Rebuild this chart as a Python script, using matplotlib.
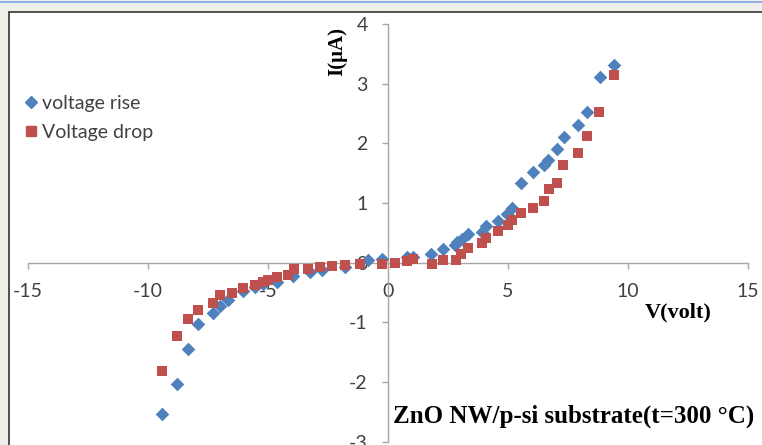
import numpy as np
import matplotlib.pyplot as plt
from matplotlib.patches import Rectangle
from matplotlib.lines import Line2D

plt.rcParams['axes.unicode_minus'] = False

# voltage rise (blue diamonds)
rise_v = [-9.43, -8.8, -8.32, -7.9, -7.3, -7.0, -6.65, -6.03, -5.54, -5.2, -4.64, -3.94,
          -3.25, -2.76, -1.79, -0.82, -0.26, 0.78, 1.06, 1.79, 2.31, 2.79, 2.89, 3.07,
          3.32, 3.9, 4.08, 4.6, 4.97, 5.15, 5.53, 6.03, 6.5, 6.68, 7.03, 7.35, 7.9,
          8.3, 8.83, 9.42]
rise_i = [-2.54, -2.04, -1.44, -1.03, -0.85, -0.73, -0.62, -0.48, -0.41, -0.36, -0.32, -0.22,
          -0.16, -0.12, -0.07, 0.04, 0.07, 0.09, 0.09, 0.15, 0.23, 0.30, 0.35, 0.40,
          0.48, 0.52, 0.61, 0.70, 0.82, 0.92, 1.33, 1.52, 1.63, 1.72, 1.91, 2.11, 2.30,
          2.52, 3.12, 3.32]

# voltage drop (red squares)
drop_v = [-9.4, -8.8, -8.32, -7.9, -7.3, -7.0, -6.5, -6.03, -5.54, -5.2, -4.99, -4.64,
          -4.15, -3.92, -3.32, -2.83, -2.35, -1.79, -1.17, -0.26, 0.29, 0.78, 1.06, 1.82,
          2.31, 2.83, 3.04, 3.32, 3.9, 4.08, 4.6, 5.01, 5.15, 5.53, 6.03, 6.5, 6.72,
          7.03, 7.3, 7.93, 8.28, 8.79, 9.42]
drop_i = [-1.82, -1.23, -0.95, -0.80, -0.68, -0.54, -0.51, -0.42, -0.37, -0.32, -0.29, -0.24,
          -0.20, -0.11, -0.11, -0.07, -0.06, -0.04, -0.03, -0.03, -0.01, 0.03, 0.07, -0.03,
          0.04, 0.04, 0.14, 0.24, 0.33, 0.42, 0.53, 0.63, 0.72, 0.83, 0.92, 1.04, 1.24,
          1.34, 1.64, 1.84, 2.13, 2.53, 3.14]

xticks = [-15, -10, -5, 0, 5, 10, 15]
yticks = [-3, -2, -1, 0, 1, 2, 3, 4]

blue = '#4f81bd'
red = '#c0504d'
axcol = '#a6a6a6'

fig = plt.figure(figsize=(7.62, 4.45), dpi=100)
fig.patch.set_facecolor('#f0f0eb')
# white chart area with dark frame on top/left
fig.patches.append(Rectangle((9 / 762, -0.1), 1.0, (445 - 12.5) / 445 + 0.1,
                             transform=fig.transFigure, facecolor='white',
                             edgecolor='#333333', linewidth=1.2, zorder=-5))
fig.lines.append(Line2D([0, 1], [1 - 1.5 / 445, 1 - 1.5 / 445], transform=fig.transFigure,
                        color='#8fb4e3', linewidth=1.5, zorder=-4))

ax = fig.add_axes([28 / 762, 3.3 / 445, 720 / 762, 417.7 / 445])
ax.set_zorder(2)
ax.set_facecolor('none')
ax.set_xlim(-15, 15)
ax.set_ylim(-3, 4)

ax.scatter(rise_v, rise_i, marker='D', s=48, color=blue, linewidths=0, zorder=3)
ax.scatter(drop_v, drop_i, marker='s', s=50, color=red, linewidths=0, zorder=3)

ax.spines['left'].set_position(('data', 0))
ax.spines['bottom'].set_position(('data', 0))
ax.spines['right'].set_visible(False)
ax.spines['top'].set_visible(False)
for s in ('left', 'bottom'):
    ax.spines[s].set_color(axcol)
    ax.spines[s].set_linewidth(1.0)

ax.set_xticks(xticks)
ax.set_yticks(yticks)
ax.tick_params(direction='out', length=4.5, color=axcol, labelsize=14,
               labelcolor='#404040', width=1.0)
ax.tick_params(axis='x', pad=10)
ax.tick_params(axis='y', pad=10)
for lab in ax.get_xticklabels() + ax.get_yticklabels():
    lab.set_fontfamily('Lato')

ax.text(-2.1, 3.54, 'I(\u03bcA)', rotation=90, ha='center', va='center',
        fontfamily='Liberation Serif', fontweight='bold', fontsize=15)
ax.text(12.08, -0.83, 'V(volt)', ha='center', va='center',
        fontfamily='Liberation Serif', fontweight='bold', fontsize=16)
ax.text(0.2, -2.57, 'ZnO NW/p-si substrate(t=300 \u00b0C)', ha='left', va='center',
        fontfamily='Liberation Serif', fontweight='bold', fontsize=18, clip_on=False)

handles = [Line2D([], [], marker='D', linestyle='none', color=blue, markersize=6),
           Line2D([], [], marker='s', linestyle='none', color=red, markersize=7)]
leg = fig.legend(handles, ['voltage rise', 'Voltage drop'], loc='center left',
                 bbox_to_anchor=(14 / 762, 1 - 118 / 445), frameon=False,
                 prop={'family': 'Lato', 'size': 14}, handlelength=0.7,
                 handletextpad=0.25, labelspacing=0.6, borderpad=0)
for t in leg.get_texts():
    t.set_color('#404040')

fig.savefig('out.png', dpi=100)
